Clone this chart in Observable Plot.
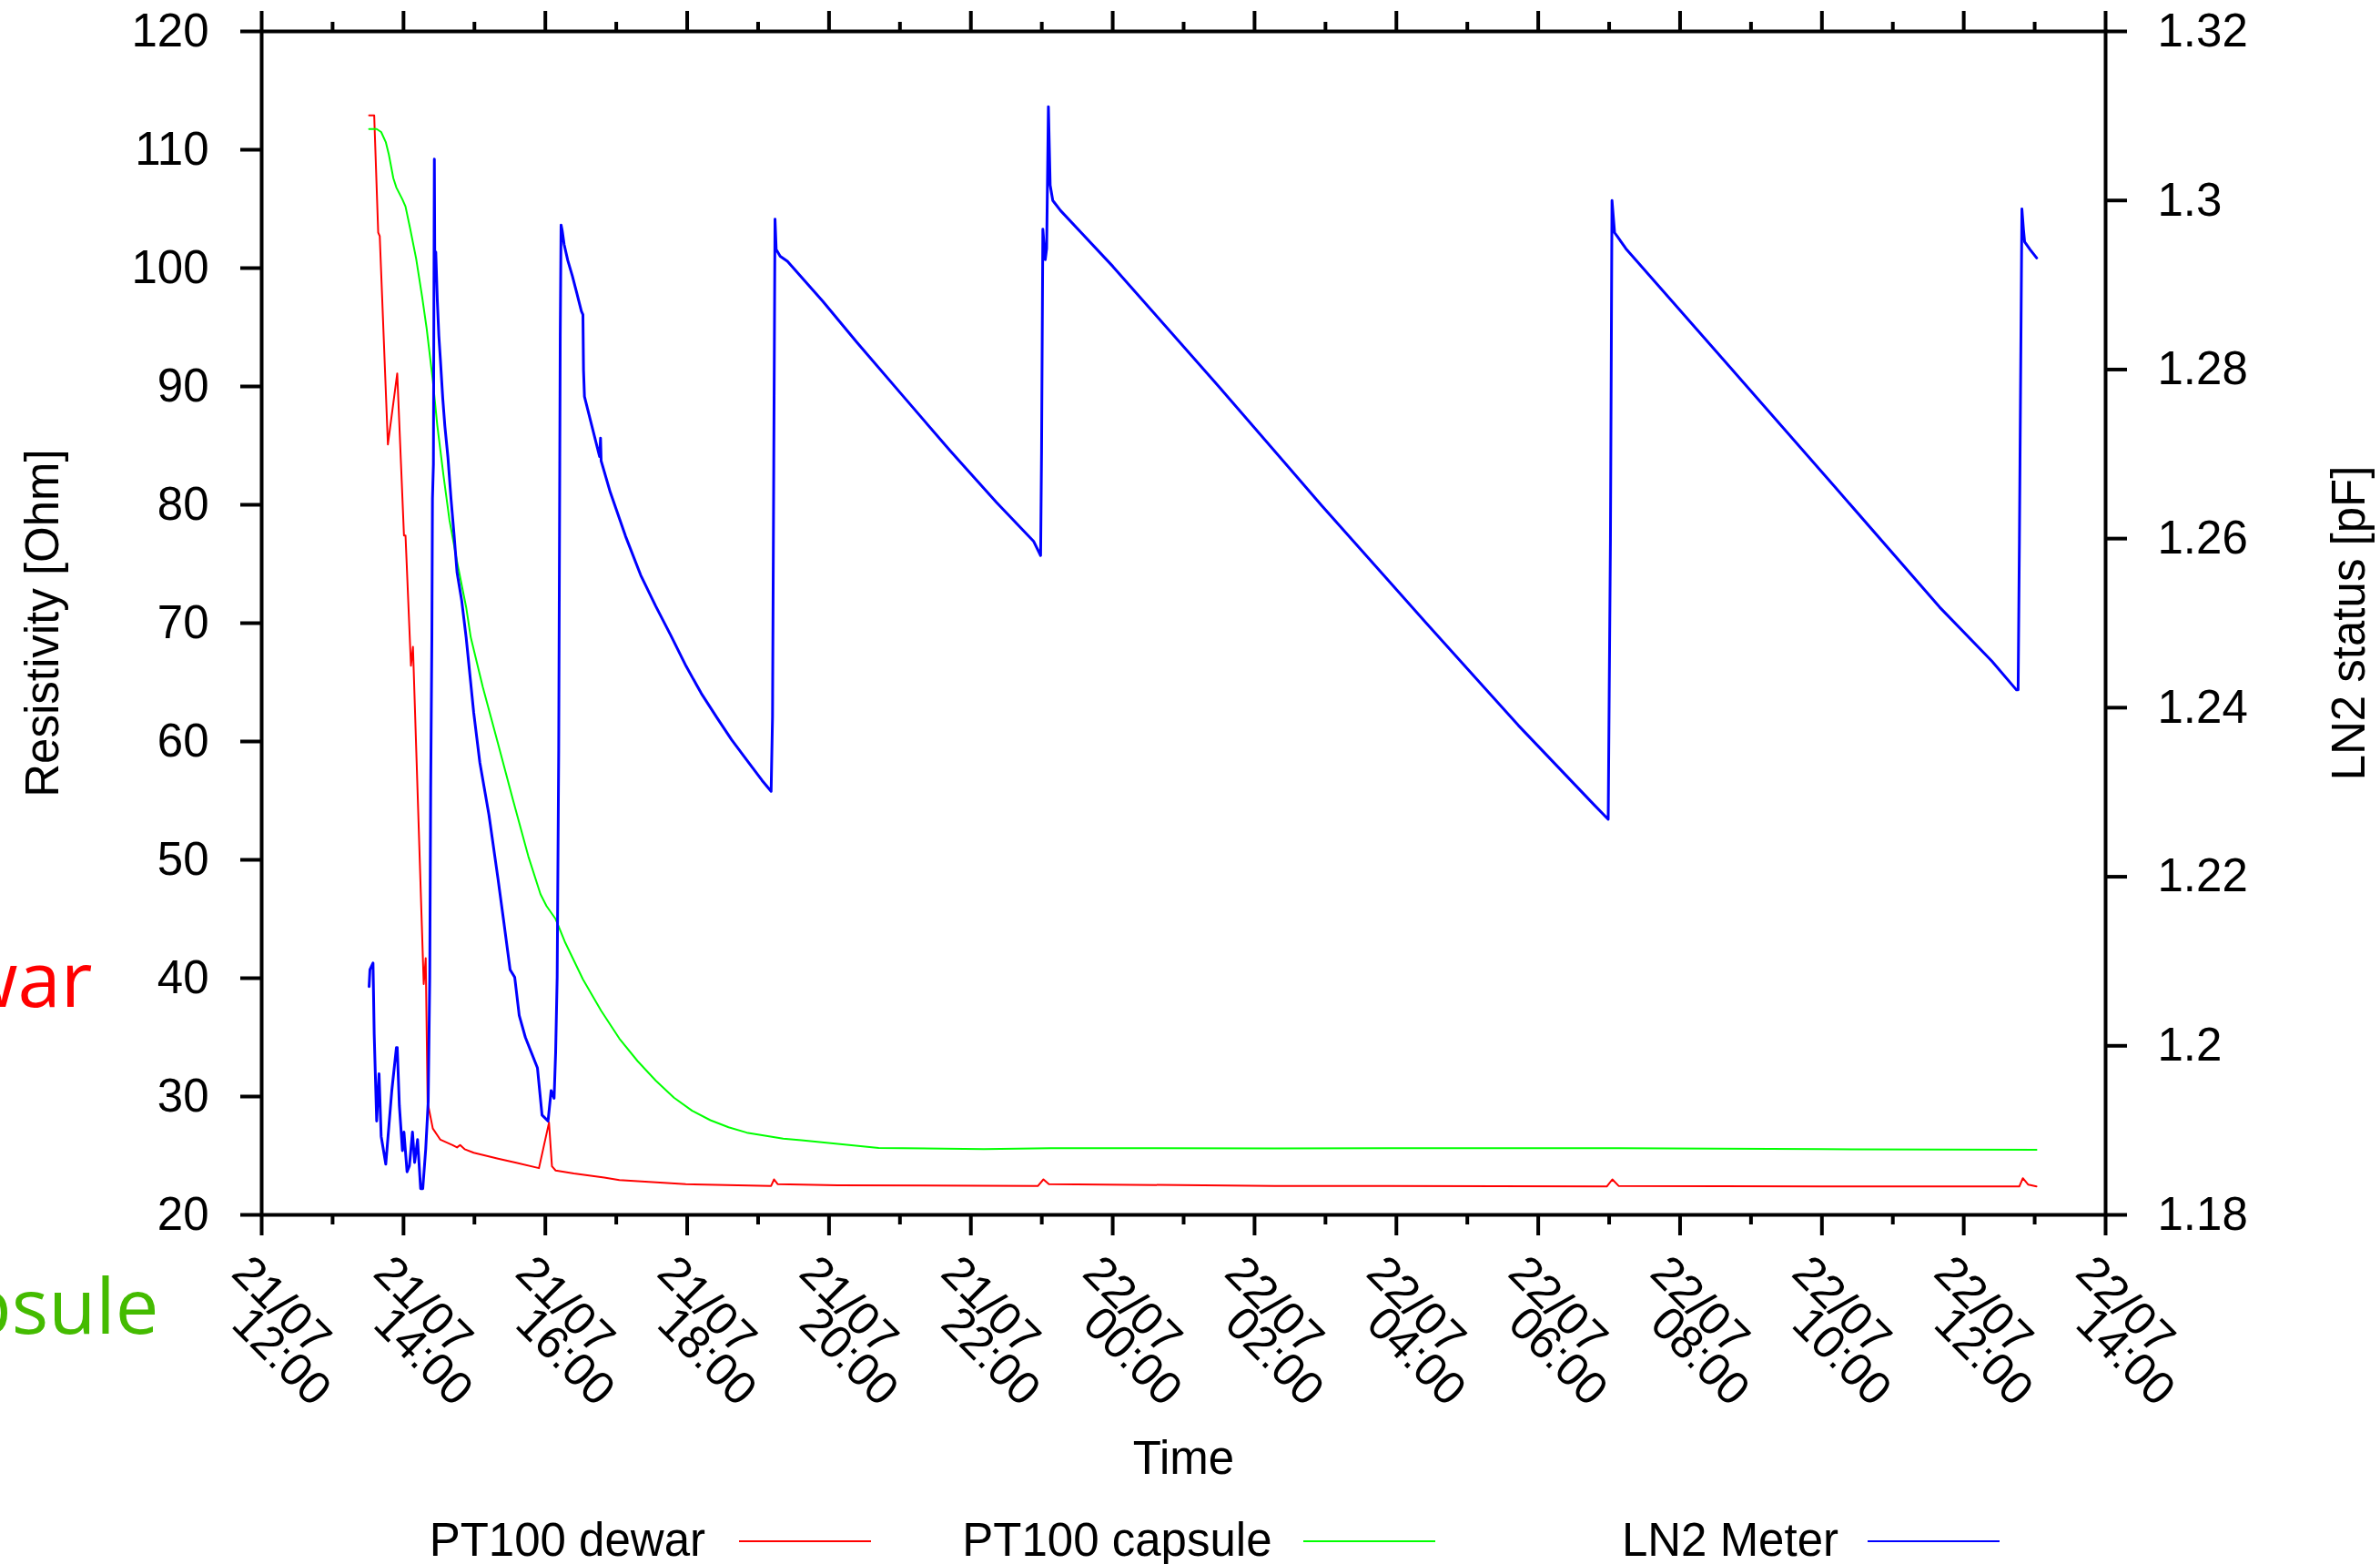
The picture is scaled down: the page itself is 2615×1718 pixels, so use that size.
<!DOCTYPE html>
<html>
<head>
<meta charset="utf-8">
<script src="https://cdn.jsdelivr.net/npm/d3@7"></script>
<script src="https://cdn.jsdelivr.net/npm/@observablehq/plot@0.6"></script>
<style>
html,body{margin:0;padding:0;background:#fff;overflow:hidden;}
#chart{width:2615px;height:1718px;position:relative;overflow:hidden;background:#fff;}
#chart svg{display:block;}
</style>
</head>
<body>
<div id="chart"></div>
<script>
// ---------- DATA (time in minutes after 21/07 12:00) ----------
const dewarMinutes = [90.9,95.2,98.6,99.9,106.8,114.7,120.4,121.7,126.3,128.0,137.1,138.8,140.4,144.8,151.2,161.5,165.3,167.9,171.7,179.4,200.0,215.4,234.6,243.1,245.6,248.7,264.1,289.8,302.6,358.8,431.0,433.5,436.5,487.4,656.8,661.4,666.0,857.0,1138.0,1142.7,1148.0,1319.0,1487.0,1490.0,1494.6,1501.5];
const dewarOhm = [112.9,112.9,103.0,102.7,85.1,91.1,77.4,77.4,66.4,68.0,39.5,41.7,29.5,27.3,26.35,25.9,25.7,25.9,25.55,25.25,24.75,24.4,23.95,27.8,24.1,23.75,23.5,23.15,22.95,22.6,22.45,23.0,22.6,22.5,22.45,23.0,22.6,22.45,22.4,23.0,22.45,22.4,22.4,23.1,22.55,22.4];

const capsuleMinutes = [90.9,97.3,101.1,105.0,107.6,111.4,114.0,119.1,121.7,125.5,130.7,135.8,139.6,144.8,148.6,153.8,158.9,165.3,173.0,176.9,187.1,200.0,212.8,225.6,235.9,241.0,248.7,256.4,271.8,287.2,302.6,318.0,333.4,348.8,364.2,379.6,395.0,410.4,425.8,441.2,456.6,487.4,522.0,611.0,667.6,857.0,1144.0,1319.0,1501.5];
const capsuleOhm = [111.75,111.75,111.5,110.65,109.6,107.6,106.8,105.8,105.2,103.4,100.8,97.55,94.9,90.5,86.7,82.5,78.7,75.2,71.35,68.8,64.6,59.8,55.0,50.3,47.1,46.1,45.0,43.1,39.9,37.25,34.9,33.0,31.35,29.9,28.8,28.0,27.4,26.95,26.7,26.45,26.3,26.0,25.65,25.56,25.64,25.62,25.64,25.55,25.5];

const ln2Minutes = [90.9,91.6,94.2,95.2,97.3,99.3,101.1,105.0,110.1,114.0,114.7,116.5,119.1,120.4,123.0,125.0,127.6,129.4,131.9,134.5,136.3,138.8,140.9,142.2,143.0,144.0,144.5,145.3,146.1,146.5,147.3,148.6,149.9,151.2,153.2,155.0,157.6,160.2,162.7,165.3,169.2,173.0,179.4,184.6,192.3,200.0,205.1,210.2,214.1,217.9,223.1,228.2,233.3,237.2,242.3,244.9,247.4,248.7,250.0,251.3,252.6,253.3,254.3,255.9,259.0,262.8,266.7,270.5,271.8,272.3,273.1,285.9,286.7,287.2,294.9,307.8,320.6,333.4,346.3,359.1,371.9,384.8,397.6,410.4,423.3,431.0,432.2,433.5,434.3,435.3,438.7,444.8,474.6,503.7,543.0,582.4,621.6,653.0,659.0,659.8,660.9,662.9,664.1,665.6,667.1,669.3,675.9,720.1,808.5,896.9,985.3,1063.2,1127.3,1139.2,1141.1,1142.4,1144.6,1154.2,1242.7,1331.1,1419.5,1463.8,1484.6,1486.0,1487.1,1489.2,1490.5,1491.5,1496.1,1501.7];
const ln2PF = [1.2070,1.2090,1.2098,1.2014,1.1911,1.1967,1.1893,1.1860,1.1947,1.1998,1.1998,1.1929,1.1876,1.1898,1.1851,1.1858,1.1898,1.1862,1.1889,1.1831,1.1831,1.1878,1.1934,1.2081,1.2304,1.2483,1.2647,1.2688,1.3049,1.2911,1.2939,1.2882,1.2840,1.2812,1.2766,1.2733,1.2696,1.2647,1.2606,1.2560,1.2527,1.2483,1.2394,1.2335,1.2273,1.2197,1.2144,1.2090,1.2081,1.2036,1.2010,1.1992,1.1974,1.1918,1.1911,1.1947,1.1938,1.1992,1.2081,1.2349,1.2840,1.2971,1.2964,1.2948,1.2929,1.2911,1.2890,1.2869,1.2865,1.2799,1.2768,1.2697,1.2719,1.2692,1.2655,1.2603,1.2557,1.2520,1.2485,1.2449,1.2417,1.2389,1.2362,1.2338,1.2314,1.2301,1.2389,1.2761,1.2978,1.2942,1.2934,1.2928,1.2881,1.2832,1.2768,1.2704,1.2643,1.2597,1.2580,1.2702,1.2966,1.2930,1.2943,1.3111,1.3018,1.3000,1.2988,1.2922,1.2782,1.2639,1.2500,1.2379,1.2285,1.2268,1.2600,1.3000,1.2962,1.2943,1.2802,1.2661,1.2519,1.2455,1.2421,1.2421,1.2600,1.2990,1.2966,1.2951,1.2942,1.2932];

const seriesNames = ["PT100 dewar", "PT100 capsule", "LN2 Meter"];
const seriesColors = ["#ff0000", "#00ff00", "#0000ff"];

const xMajorHours = [0,2,4,6,8,10,12,14,16,18,20,22,24,26];
const xMinorHours = [1,3,5,7,9,11,13,15,17,19,21,23,25];
const xTickDates = ["21/07","21/07","21/07","21/07","21/07","21/07","22/07","22/07","22/07","22/07","22/07","22/07","22/07","22/07"];
const xTickTimes = ["12:00","14:00","16:00","18:00","20:00","22:00","00:00","02:00","04:00","06:00","08:00","10:00","12:00","14:00"];

const yTicks = [20,30,40,50,60,70,80,90,100,110,120];
const y2Ticks = [1.18,1.20,1.22,1.24,1.26,1.28,1.30,1.32];
const y2TickLabels = ["1.18","1.2","1.22","1.24","1.26","1.28","1.3","1.32"];

const yLabel = "Resistivity [Ohm]";
const y2Label = "LN2 status [pF]";
const xLabel = "Time";
const sideNotes = ["PT100 dewar", "PT100 capsule"];

// ---------- BUILD ----------
const FONT = '"Liberation Sans", Arial, Helvetica, sans-serif';
const NOTE_FONT = '"Open Sans", "Noto Sans", sans-serif';
const t0 = Date.UTC(2021, 6, 21, 12, 0);
const toDate = m => new Date(t0 + m * 60000);
const yMin = 20, yMax = 120, y2Min = 1.18, y2Max = 1.32;
const toLeft = c => yMin + (c - y2Min) / (y2Max - y2Min) * (yMax - yMin);

const dewar = dewarMinutes.map((m, i) => ({t: toDate(m), v: dewarOhm[i]}));
const capsule = capsuleMinutes.map((m, i) => ({t: toDate(m), v: capsuleOhm[i]}));
const ln2 = ln2Minutes.map((m, i) => ({t: toDate(m), v: toLeft(ln2PF[i])}));

const majors = xMajorHours.map(h => toDate(h * 60));
const minors = xMinorHours.map(h => toDate(h * 60));
const y2Pos = y2Ticks.map(toLeft);

const W = 2615, H = 1650;
const mL = 287, mR = 302, mT = 34, mB = 316;
const frameBottom = H - mB; // 1334

const plot = Plot.plot({
  width: W, height: H,
  marginLeft: mL, marginRight: mR, marginTop: mT, marginBottom: mB,
  style: {fontFamily: FONT, fontSize: "51px", background: "white", color: "black"},
  x: {type: "utc", domain: [toDate(0), toDate(26 * 60)]},
  y: {domain: [yMin, yMax]},
  marks: [
    Plot.line(dewar, {x: "t", y: "v", stroke: seriesColors[0], strokeWidth: 2}),
    Plot.line(capsule, {x: "t", y: "v", stroke: seriesColors[1], strokeWidth: 2}),
    Plot.line(ln2, {x: "t", y: "v", stroke: seriesColors[2], strokeWidth: 3}),
    Plot.frame({stroke: "black", strokeWidth: 4}),
    Plot.axisY(yTicks, {anchor: "left", tickSize: 23, tickPadding: 35, strokeWidth: 4, fontSize: 51, label: null, tickFormat: d => `${d}`}),
    Plot.axisY(y2Pos, {anchor: "right", tickSize: 23, tickPadding: 34, strokeWidth: 4, fontSize: 51, label: null,
      tickFormat: d => y2TickLabels[y2Pos.indexOf(d)]}),
    Plot.axisX(majors, {anchor: "bottom", tickSize: 23, strokeWidth: 4, label: null, tickFormat: () => ""}),
    Plot.axisX(minors, {anchor: "bottom", tickSize: 11, strokeWidth: 4, label: null, tickFormat: () => ""}),
    Plot.axisX(majors, {anchor: "top", tickSize: 23, strokeWidth: 4, label: null, tickFormat: () => ""}),
    Plot.axisX(minors, {anchor: "top", tickSize: 11, strokeWidth: 4, label: null, tickFormat: () => ""}),
    // rotated two-line tick labels (gnuplot style: second line shifted straight down)
    Plot.text(majors, {x: d => d, text: (d, i) => xTickDates[i], frameAnchor: "bottom", rotate: 45,
      textAnchor: "start", lineAnchor: "bottom", dx: -35, dy: 66, fontSize: 51, fill: "black"}),
    Plot.text(majors, {x: d => d, text: (d, i) => xTickTimes[i], frameAnchor: "bottom", rotate: 45,
      textAnchor: "start", lineAnchor: "bottom", dx: -35, dy: 122, fontSize: 51, fill: "black"}),
    // axis titles
    Plot.text([xLabel], {text: d => d, frameAnchor: "bottom", textAnchor: "middle", lineAnchor: "bottom", dy: 284, fontSize: 51}),
    Plot.text([yLabel], {text: d => d, frameAnchor: "left", rotate: -90, textAnchor: "middle", lineAnchor: "bottom", dx: 63 - mL, fontSize: 51}),
    Plot.text([y2Label], {text: d => d, frameAnchor: "right", rotate: -90, textAnchor: "middle", lineAnchor: "bottom", dx: 2597 - (W - mR), fontSize: 51}),
    // large side notes, partly outside the page on the left (as in the original)
    Plot.text([sideNotes[0]], {text: d => d, frameAnchor: "bottom-left", textAnchor: "end", lineAnchor: "bottom",
      dx: 101 - mL, dy: 1105 - frameBottom, fontSize: 85, fontFamily: NOTE_FONT, fill: "#ff0000"}),
    Plot.text([sideNotes[1]], {text: d => d, frameAnchor: "bottom-left", textAnchor: "end", lineAnchor: "bottom",
      dx: 174 - mL, dy: 1464 - frameBottom, fontSize: 85, fontFamily: NOTE_FONT, fill: "#44bb00"})
  ]
});

const chart = document.getElementById("chart");
chart.appendChild(plot);

// legend row below the plot
const LH = 1718 - H;
const leg = d3.create("svg").attr("width", W).attr("height", LH)
  .style("display", "block").style("background", "white")
  .attr("font-family", FONT).attr("font-size", 51);
seriesNames.forEach((name, i) => {
  const textRight = 775 + i * 622.5;
  const lineStart = 812 + i * 620;
  leg.append("text").attr("x", textRight).attr("y", 58.5).attr("text-anchor", "end").attr("fill", "black").text(name);
  leg.append("line").attr("x1", lineStart).attr("x2", lineStart + 145).attr("y1", 43).attr("y2", 43)
    .attr("stroke", seriesColors[i]).attr("stroke-width", 2);
});
chart.appendChild(leg.node());
</script>
</body>
</html>
